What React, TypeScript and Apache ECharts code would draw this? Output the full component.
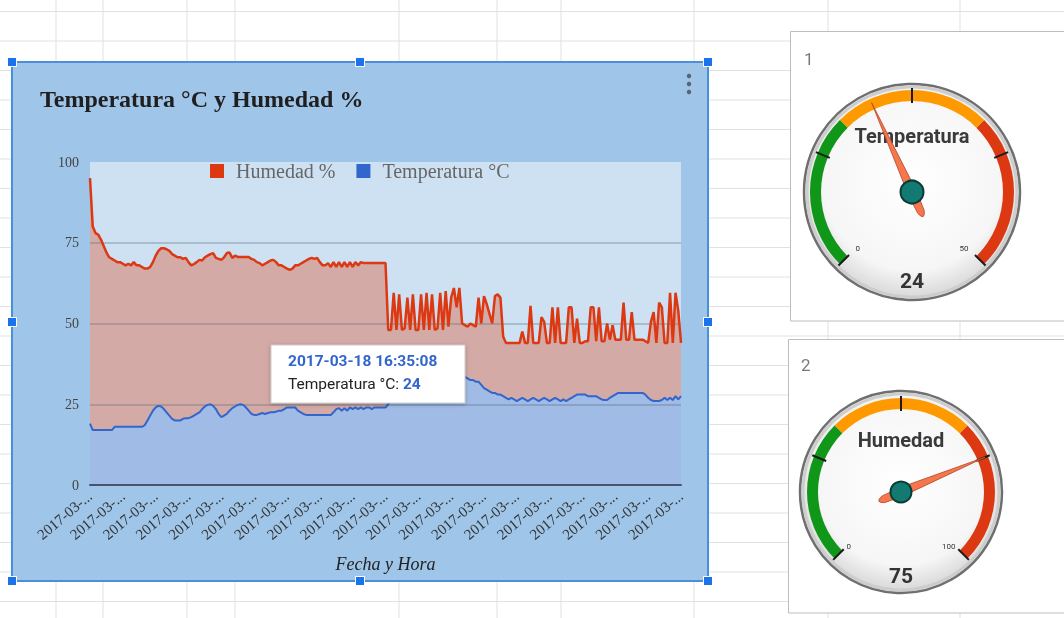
import React, { useEffect, useRef } from "react";
import * as echarts from "echarts";

// ---- Line chart data ----
const humedad: number[] = [
  95, 80, 78, 77.5, 76, 74, 72, 70.5, 70, 69.5,
  69, 69, 68.5, 68, 68.5, 68, 69, 68, 68, 67.5,
  67, 67, 67.5, 69, 71, 72.5, 73.3, 73.3, 73, 72.5,
  71.5, 71, 70.5, 70.5, 70, 70.3, 69, 68, 68.4, 69,
  69.7, 69.5, 70.5, 71, 71.5, 71.8, 70.3, 70, 69.7, 70.5,
  71.8, 72, 70.3, 71, 70.6, 70.6, 70.6, 70.6, 70.6, 70,
  69.7, 69, 68.7, 68, 68.5, 69, 69.5, 69.7, 69, 68,
  68, 67.5, 67, 66.6, 67, 68, 68, 68.5, 69, 69.5,
  70, 70.3, 70, 70.3, 69, 68, 68, 68.7, 67.5, 69,
  67.5, 69, 67.5, 69, 67.5, 69, 67.5, 69, 68, 69,
  68.7, 68.7, 68.7, 68.7, 68.7, 68.7, 68.7, 68.7, 68.7,
  48, 48, 59.5, 48, 59, 48, 48.5, 58, 48, 59, 48,
  48, 59, 48, 59.5, 48, 59, 48, 48.5, 59.5, 48,
  60, 49, 58, 61, 55, 61, 50, 49.5, 49, 50,
  49.5, 49, 58, 50, 58.5, 56, 53, 50, 58.5, 59,
  58, 46, 44, 44, 44, 44, 44, 44, 47.5, 44,
  44, 55.5, 44, 44, 44, 52, 50.5, 44, 44, 55,
  44, 55, 44, 44, 44, 55, 55, 44, 51.5, 44,
  44, 44.5, 44.5, 55, 55, 44.5, 55, 44.5, 44.5, 50,
  45, 49.5, 45, 45, 45, 56.5, 45, 45, 53.5, 45,
  45, 45, 45, 44.5, 44, 50.5, 53.5, 44, 56.5, 55,
  44, 44, 59.5, 44, 59.5, 54, 44,
];

const temperatura: number[] = [
  19, 17, 17, 17, 17, 17, 17, 17, 17, 18,
  18, 18, 18, 18, 18, 18, 18, 18, 18, 18,
  18.5, 20, 21.5, 23, 24, 24.5, 24.3, 23.5, 22.5, 21.5,
  20.5, 20, 20, 20, 20.5, 20.7, 20.7, 21, 21.5, 22,
  22.5, 23.5, 24.3, 24.8, 25, 24.5, 23.5, 22, 21, 21.5,
  22, 23, 23.8, 24.3, 24.8, 25, 24.8, 24, 23, 22,
  21.7, 21.7, 22, 22.3, 22, 22.3, 22.5, 22.5, 22.7, 23,
  23, 23.5, 24, 24, 24, 24, 23, 22.5, 22, 21.7,
  21.7, 21.7, 21.7, 21.7, 21.7, 21.7, 21.7, 21.7, 21.7, 22.5,
  23.5, 23.8, 23, 23.8, 23, 24, 23.5, 24, 23.5, 24,
  23.5, 24, 24, 23.5, 24, 24, 24, 24, 24,
  25, 26.5, 27.5, 28, 28.5, 29, 29.5, 29.5, 30, 30, 30.5,
  30.5, 31, 31, 31.5, 32, 32.5, 33, 33, 33.5, 34,
  34, 34.5, 34.5, 34, 34.5, 34, 34, 33.5, 33, 32.5,
  32.5, 32, 32, 31, 30, 29.5, 29, 28.5, 28.5, 28,
  28, 27.5, 27, 26.5, 27, 26.5, 26, 26.5, 27, 26.5,
  26, 26.5, 27, 26.5, 26, 26.5, 27, 26.5, 26, 26.5,
  27, 26.5, 26, 26.5, 26, 26.5, 27, 27.5, 28, 28,
  28, 28, 27.5, 27.5, 27.5, 27.5, 27, 26.5, 26.3, 26.3,
  27, 27.5, 28, 28.5, 28.5, 28.5, 28.5, 28.5, 28.5, 28.5,
  28.5, 28.5, 28.5, 28, 27, 26.3, 26, 26, 26, 26.3,
  27, 26.3, 27, 26.3, 27.5, 26.5, 27.5,
];

const xTickLabels: string[] = [
  "2017-03-...", "2017-03-...", "2017-03-...", "2017-03-...", "2017-03-...",
  "2017-03-...", "2017-03-...", "2017-03-...", "2017-03-...", "2017-03-...",
  "2017-03-...", "2017-03-...", "2017-03-...", "2017-03-...", "2017-03-...",
  "2017-03-...", "2017-03-...", "2017-03-...", "2017-03-...",
];
const xTickStep = 12;
const yTicks = [0, 25, 50, 75, 100];
const seriesNames = ["Humedad %", "Temperatura °C"];
const chartTitle = "Temperatura °C y Humedad %";
const xAxisTitle = "Fecha y Hora";

const tooltipTime = "2017-03-18 16:35:08";
const tooltipLabel = "Temperatura °C";
const tooltipValue = 24;

// ---- Gauges ----
const gaugeTitles = ["Temperatura", "Humedad"];
const gaugeMax = [50, 100];
const gaugeReadings = [24, 75];
const gaugeNeedle = [20.5, 75];
const panelLabels = ["1", "2"];

// spreadsheet lines (layout)
const sheetRows = [11.5, 41, 70.5, 100, 129.5, 159, 188.5, 218, 247.5, 277, 306.5, 336, 365.5, 395, 424.5, 454, 483.5, 513, 542.5, 572, 601.5];
const sheetCols = [56, 103, 187, 235, 399, 497, 561, 694, 828, 960];

const needlePath = "path://M5,0 L9.5,98 L8.5,118 Q5,128 1.5,118 L0.5,98 Z";

function makeGauge(idx: number, cx: number, cy: number, r: number, tip: number, tail: number, anchor: number, titleOff: number, detailOff: number, labelDist: number) {
  const max = gaugeMax[idx];
  return {
    type: "gauge",
    center: [cx, cy],
    radius: r,
    startAngle: 225,
    endAngle: -45,
    min: 0,
    max: max,
    splitNumber: 4,
    z: 3,
    axisLine: {
      lineStyle: {
        width: 11,
        color: [
          [1 / 3, "#109618"],
          [2 / 3, "#ff9900"],
          [1, "#dc3912"],
        ],
      },
    },
    splitLine: { show: true, distance: -13, length: 15, lineStyle: { color: "#1a1a1a", width: 2 } },
    axisTick: { show: false },
    axisLabel: {
      distance: labelDist,
      fontSize: 8,
      color: "#333",
      fontFamily: "Roboto",
      formatter: (v: number) => (v === 0 || v === max ? String(v) : ""),
    },
    pointer: {
      icon: needlePath,
      length: tip + tail,
      width: 9,
      offsetCenter: [0, tail],
      itemStyle: { color: "#f4774f", borderColor: "#b9502e", borderWidth: 0.8 },
    },
    anchor: {
      show: true,
      showAbove: true,
      size: anchor,
      icon: "circle",
      itemStyle: { color: "#127a70", borderColor: "#0b3b37", borderWidth: 2 },
    },
    title: {
      show: true,
      offsetCenter: [0, titleOff],
      fontSize: 20,
      fontWeight: "bold",
      color: "#3a3a3a",
      fontFamily: "Roboto",
    },
    detail: {
      show: true,
      offsetCenter: [0, detailOff],
      fontSize: 21,
      fontWeight: "bold",
      color: "#333",
      fontFamily: "Roboto",
      formatter: () => String(gaugeReadings[idx]),
    },
    data: [{ value: gaugeNeedle[idx], name: gaugeTitles[idx] }],
  };
}

function gaugeFace(cx: number, cy: number, r: number) {
  return [
    {
      type: "circle",
      z: -4,
      shape: { cx, cy, r },
      style: {
        fill: new echarts.graphic.RadialGradient(0.5, 0.45, 0.55, [
          { offset: 0, color: "#ffffff" },
          { offset: 0.75, color: "#f6f6f6" },
          { offset: 1, color: "#d6d6d6" },
        ]),
        stroke: "#6f6f6f",
        lineWidth: 2.5,
      },
    },
    {
      type: "circle",
      z: -3,
      shape: { cx, cy, r: r - 3 },
      style: { fill: "none", stroke: "#cdcdcd", lineWidth: 3 },
    },
  ];
}

function handle(x: number, y: number) {
  return {
    type: "rect",
    z: 30,
    shape: { x: x - 4.5, y: y - 4.5, width: 9, height: 9 },
    style: { fill: "#1a73e8", stroke: "#ffffff", lineWidth: 1 },
  };
}

export default function App() {
  const ref = useRef<HTMLDivElement>(null);

  useEffect(() => {
    if (!ref.current) return;
    const chart = echarts.init(ref.current, null, { renderer: "svg" });

    const hData = humedad.map((v, i) => [i, v]);
    const tData = temperatura.map((v, i) => [i, v]);
    const gridC = "rgba(80,95,110,0.38)";

    const graphics: any[] = [];
    sheetRows.forEach((y) =>
      graphics.push({ type: "line", z: -20, shape: { x1: 0, y1: y, x2: 1064, y2: y }, style: { stroke: "#e1e1e1", lineWidth: 1 } })
    );
    sheetCols.forEach((x) =>
      graphics.push({ type: "line", z: -20, shape: { x1: x, y1: 0, x2: x, y2: 618 }, style: { stroke: "#e1e1e1", lineWidth: 1 } })
    );
    // chart box
    graphics.push({
      type: "rect",
      z: -10,
      shape: { x: 12, y: 62, width: 696, height: 519 },
      style: { fill: "#9fc5e8", stroke: "#4a8fdc", lineWidth: 2 },
    });
    // menu dots
    [76, 84, 92].forEach((y) =>
      graphics.push({ type: "circle", z: 5, shape: { cx: 689, cy: y, r: 2.2 }, style: { fill: "#5a6470" } })
    );
    // handles
    [
      [12, 62], [360, 62], [708, 62],
      [12, 322], [708, 322],
      [12, 581], [360, 581], [708, 581],
    ].forEach(([x, y]) => graphics.push(handle(x, y)));

    // tooltip
    graphics.push({
      type: "rect",
      z: 40,
      shape: { x: 271, y: 345, width: 194, height: 58 },
      style: { fill: "#ffffff", stroke: "#cccccc", lineWidth: 1, shadowBlur: 4, shadowColor: "rgba(0,0,0,0.25)", shadowOffsetY: 1 },
    });
    graphics.push({
      type: "text",
      z: 41,
      style: {
        x: 288,
        y: 361,
        text: tooltipTime,
        font: "bold 15.5px Roboto",
        fill: "#3366cc",
        align: "left",
        verticalAlign: "middle",
        textAlign: "left",
        textVerticalAlign: "middle",
      },
    });
    graphics.push({
      type: "text",
      z: 41,
      style: {
        x: 288,
        y: 384,
        text: tooltipLabel + ": {b|" + tooltipValue + "}",
        font: "15.5px Roboto",
        fill: "#222222",
        align: "left",
        verticalAlign: "middle",
        textAlign: "left",
        textVerticalAlign: "middle",
        rich: { b: { font: "bold 15.5px Roboto", fill: "#3366cc", textFill: "#3366cc" } },
      },
    });

    // gauge panels
    graphics.push({
      type: "rect",
      z: -5,
      shape: { x: 790.5, y: 31.5, width: 300, height: 289.5 },
      style: { fill: "#ffffff", stroke: "#bdbdbd", lineWidth: 1 },
    });
    graphics.push({
      type: "rect",
      z: -5,
      shape: { x: 788.5, y: 339.5, width: 300, height: 273.5 },
      style: { fill: "#ffffff", stroke: "#bdbdbd", lineWidth: 1 },
    });
    graphics.push({
      type: "text",
      z: -2,
      style: { x: 804, y: 59, text: panelLabels[0], font: "17px Roboto", fill: "#7a7a7a", align: "left", verticalAlign: "middle", textAlign: "left", textVerticalAlign: "middle" },
    });
    graphics.push({
      type: "text",
      z: -2,
      style: { x: 801, y: 365, text: panelLabels[1], font: "17px Roboto", fill: "#7a7a7a", align: "left", verticalAlign: "middle", textAlign: "left", textVerticalAlign: "middle" },
    });
    gaugeFace(912, 192, 108).forEach((g) => graphics.push(g));
    gaugeFace(901, 492, 101).forEach((g) => graphics.push(g));

    const option: any = {
      animation: false,
      title: {
        text: chartTitle,
        left: 35,
        top: 82,
        textStyle: { fontFamily: "Liberation Serif", fontSize: 24, fontWeight: "bold", color: "#1f1f1f" },
      },
      legend: {
        data: seriesNames,
        left: 205,
        top: 156,
        icon: "rect",
        itemWidth: 14,
        itemHeight: 14,
        itemGap: 21,
        textStyle: { fontFamily: "Liberation Serif", fontSize: 20, color: "#666666", padding: [0, 0, 0, 7] },
      },
      grid: {
        left: 90,
        top: 162,
        width: 591,
        height: 323,
        show: true,
        backgroundColor: "#cde1f3",
        borderWidth: 0,
      },
      xAxis: {
        type: "value",
        min: 0,
        max: (xTickLabels.length - 1) * xTickStep,
        interval: xTickStep,
        z: 3,
        name: xAxisTitle,
        nameLocation: "middle",
        nameGap: 70,
        nameTextStyle: { fontFamily: "Liberation Serif", fontStyle: "italic", fontSize: 18, color: "#222" },
        axisLine: { show: true, lineStyle: { color: "#45556b", width: 2 } },
        axisTick: { show: false },
        splitLine: { show: false },
        axisLabel: {
          rotate: 40,
          margin: 9,
          fontFamily: "Liberation Serif",
          fontSize: 15,
          color: "#333",
          showMinLabel: true,
          showMaxLabel: true,
          formatter: (v: number) => xTickLabels[Math.round(v / xTickStep)] ?? "",
        },
      },
      yAxis: {
        type: "value",
        min: yTicks[0],
        max: yTicks[yTicks.length - 1],
        interval: yTicks[1] - yTicks[0],
        z: 3,
        axisLine: { show: false },
        axisTick: { show: false },
        axisLabel: { margin: 11, fontFamily: "Liberation Serif", fontSize: 14, color: "#444" },
        splitLine: {
          show: true,
          lineStyle: { color: ["rgba(0,0,0,0)", gridC, gridC, gridC, "rgba(0,0,0,0)"], width: 1.5 },
        },
      },
      series: [
        {
          name: seriesNames[0],
          type: "line",
          data: hData,
          symbol: "none",
          z: 1,
          silent: true,
          itemStyle: { color: "#dc3912" },
          lineStyle: { width: 0, opacity: 0 },
          areaStyle: { color: "#d4aaa7", opacity: 1 },
        },
        {
          name: seriesNames[1],
          type: "line",
          data: tData,
          symbol: "none",
          z: 1,
          silent: true,
          itemStyle: { color: "#3366cc" },
          lineStyle: { width: 0, opacity: 0 },
          areaStyle: { color: "#a0bbe5", opacity: 1 },
        },
        {
          name: seriesNames[0],
          type: "line",
          data: hData,
          symbol: "none",
          z: 4,
          itemStyle: { color: "#dc3912" },
          lineStyle: { color: "#dc3912", width: 2.5 },
        },
        {
          name: seriesNames[1],
          type: "line",
          data: tData,
          symbol: "none",
          z: 4,
          itemStyle: { color: "#3366cc" },
          lineStyle: { color: "#3366cc", width: 2 },
        },
        makeGauge(0, 912, 192, 102, 98, 27, 23, -56, 89, 20),
        makeGauge(1, 901, 492, 94, 91, 24, 21, -52, 84, 15),
      ],
      graphic: { elements: graphics },
    };

    chart.setOption(option);
    return () => chart.dispose();
  }, []);

  return <div ref={ref} style={{ position: "fixed", left: 0, top: 0, width: 1064, height: 618 }} />;
}
